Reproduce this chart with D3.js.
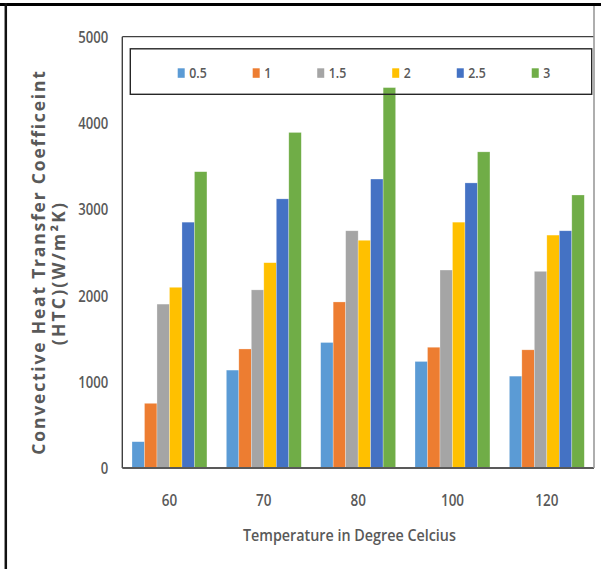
<!DOCTYPE html>
<html>
<head>
<meta charset="utf-8">
<script src="https://cdn.jsdelivr.net/npm/d3@7"></script>
<style>
  html, body { margin: 0; padding: 0; background: #fff; }
  svg { display: block; }
</style>
</head>
<body>
<div id="chart"></div>
<script>
// Temperatures (°C) on the category axis
const temperatures = ["60", "70", "80", "100", "120"];
// Series names shown in the legend
const seriesNames = ["0.5", "1", "1.5", "2", "2.5", "3"];
// Convective HTC (W/m²K) per series, one value per temperature
const htc_0_5 = [305, 1135, 1455, 1235, 1065];
const htc_1   = [750, 1380, 1925, 1400, 1370];
const htc_1_5 = [1900, 2065, 2750, 2295, 2280];
const htc_2   = [2095, 2380, 2640, 2850, 2700];
const htc_2_5 = [2850, 3120, 3350, 3305, 2750];
const htc_3   = [3435, 3890, 4410, 3665, 3165];
const seriesValues = [htc_0_5, htc_1, htc_1_5, htc_2, htc_2_5, htc_3];
const yTicks = [0, 1000, 2000, 3000, 4000, 5000];
const colors = ["#5B9BD5", "#ED7D31", "#A5A5A5", "#FFC000", "#4472C4", "#70AD47"];

const W = 601, H = 569;
const plot = { left: 122.3, right: 594, top: 36.7, bottom: 468 };
const textColor = "#595959";
const font = "'Open Sans', 'Liberation Sans', Arial, sans-serif";

const svg = d3.select("#chart").append("svg")
  .attr("width", W).attr("height", H);

// narrows rendered text to mimic a condensed face
function squeeze(sel, k) {
  sel.each(function () {
    const w = this.getComputedTextLength();
    d3.select(this).attr("textLength", w * k).attr("lengthAdjust", "spacingAndGlyphs");
  });
}

const x0 = d3.scaleBand().domain(temperatures)
  .range([plot.left, plot.right]).paddingInner(0.2055).paddingOuter(0.1028);
const x1 = d3.scaleBand().domain(seriesNames).range([0, x0.bandwidth()]);
const y = d3.scaleLinear().domain([0, 5000]).range([plot.bottom, plot.top]);

// bars
const rows = temperatures.map((t, i) => ({
  t, vals: seriesNames.map((s, j) => ({ s, v: seriesValues[j][i], c: colors[j] }))
}));
const g = svg.append("g");
g.selectAll("g.grp").data(rows).join("g")
  .attr("class", "grp")
  .attr("transform", d => `translate(${x0(d.t)},0)`)
  .selectAll("rect").data(d => d.vals).join("rect")
  .attr("x", d => x1(d.s))
  .attr("y", d => y(d.v))
  .attr("width", x1.bandwidth())
  .attr("height", d => y(0) - y(d.v))
  .attr("fill", d => d.c)
  .attr("stroke", "#ffffff").attr("stroke-opacity", 0.45).attr("stroke-width", 0.6);

// plot frame: left + top dark, bottom axis line, right grey line
svg.append("line").attr("x1", plot.left).attr("x2", plot.left)
  .attr("y1", plot.top).attr("y2", plot.bottom)
  .attr("stroke", "#404040").attr("stroke-width", 1.4);
svg.append("line").attr("x1", plot.left).attr("x2", plot.right)
  .attr("y1", plot.top).attr("y2", plot.top)
  .attr("stroke", "#404040").attr("stroke-width", 1.3);
svg.append("line").attr("x1", plot.left).attr("x2", plot.right)
  .attr("y1", plot.bottom).attr("y2", plot.bottom)
  .attr("stroke", "#595959").attr("stroke-width", 2);
svg.append("line").attr("x1", plot.right).attr("x2", plot.right)
  .attr("y1", 4).attr("y2", plot.bottom)
  .attr("stroke", "#9a9a9a").attr("stroke-width", 1.6);

// outer frame (top and left edges)
svg.append("line").attr("x1", 0).attr("x2", W).attr("y1", 4.5).attr("y2", 4.5)
  .attr("stroke", "#000").attr("stroke-width", 3);
svg.append("line").attr("x1", 5.8).attr("x2", 5.8).attr("y1", 3).attr("y2", H)
  .attr("stroke", "#111").attr("stroke-width", 2.5);

// y axis
const yAxis = svg.append("g")
  .attr("transform", `translate(${plot.left},0)`)
  .call(d3.axisLeft(y).tickValues(yTicks).tickSize(0).tickPadding(14).tickFormat(d3.format("d")));
yAxis.select(".domain").remove();
yAxis.selectAll("text")
  .attr("font-family", font).attr("font-size", 15.5).attr("font-weight", 600)
  .attr("fill", textColor).attr("dy", "0.37em");
yAxis.selectAll("text").attr("textLength", 30).attr("lengthAdjust", "spacingAndGlyphs")
  .filter(d => d === 0).attr("textLength", 7.5);

// x axis
const xAxis = svg.append("g")
  .attr("transform", `translate(0,${plot.bottom})`)
  .call(d3.axisBottom(x0).tickSize(0));
xAxis.select(".domain").remove();
xAxis.selectAll("text")
  .attr("font-family", font).attr("font-size", 16).attr("font-weight", 600)
  .attr("fill", textColor).attr("y", 32).attr("dy", "0.36em")
  .attr("textLength", d => d.length * 7.7).attr("lengthAdjust", "spacingAndGlyphs");

// x title
svg.append("text")
  .attr("x", 349.4).attr("y", 541)
  .attr("text-anchor", "middle")
  .attr("font-family", font).attr("font-size", 17).attr("font-weight", 600)
  .attr("fill", textColor)
  .attr("textLength", 213).attr("lengthAdjust", "spacingAndGlyphs")
  .text("Temperature in Degree Celcius");

// y title (two lines), natural glyph widths with open tracking
const yTitle = svg.append("g").attr("font-family", font)
  .attr("font-weight", 700).attr("fill", textColor);
yTitle.append("text")
  .attr("transform", "translate(45,262) rotate(-90)")
  .attr("text-anchor", "middle").attr("font-size", 17.5)
  .style("letter-spacing", "1.8px")
  .text("Convective Heat Transfer Coefficeint");
yTitle.append("text")
  .attr("transform", "translate(65,273) rotate(-90)")
  .attr("text-anchor", "middle").attr("font-size", 17.5)
  .style("letter-spacing", "2.2px")
  .text("(HTC)(W/m²K)");

// legend (transparent box drawn over the bars)
const legBox = { x: 130.3, y: 48.8, w: 461.4, h: 45.5 };
svg.append("rect")
  .attr("x", legBox.x).attr("y", legBox.y).attr("width", legBox.w).attr("height", legBox.h)
  .attr("fill", "none").attr("stroke", "#262626").attr("stroke-width", 1.4);
const leg = svg.append("g");
const items = leg.selectAll("g").data(seriesNames).join("g");
items.append("rect")
  .attr("width", 7).attr("height", 9.5).attr("y", 68.3)
  .attr("fill", (d, i) => colors[i]);
items.append("text")
  .attr("x", 11.5).attr("y", 78)
  .attr("font-family", font).attr("font-size", 14.5).attr("font-weight", 600)
  .attr("fill", textColor)
  .text(d => d);
squeeze(items.selectAll("text"), 0.85);
// flow layout from measured label widths, centred in the box
let cursor = 0;
const offsets = [];
items.each(function () {
  const tw = +d3.select(this).select("text").attr("textLength");
  offsets.push(cursor);
  cursor += 11.5 + tw + 46;
});
const total = cursor - 46;
const startX = legBox.x + (legBox.w - total) / 2 + 3;
items.attr("transform", (d, i) => `translate(${startX + offsets[i]},0)`);
</script>
</body>
</html>
